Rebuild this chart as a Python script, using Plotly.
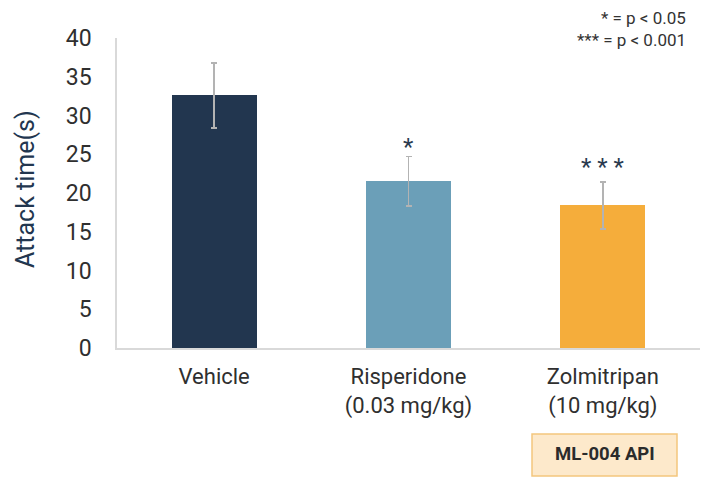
import plotly.graph_objects as go

categories = ["Vehicle", "Risperidone<br>(0.03 mg/kg)", "Zolmitripan<br>(10 mg/kg)"]
means = [32.6, 21.5, 18.4]
errors = [4.2, 3.2, 3.05]
bar_colors = ["#22364f", "#6b9fb8", "#f5ad3b"]
sig_labels = ["", "*", "* * *"]
sig_y = [0, 26.0, 23.3]
y_ticks = [0, 5, 10, 15, 20, 25, 30, 35, 40]

FONT = "Roboto"
W, H = 705, 478
L, R, T, B = 117, 5, 38, 130
pw = W - L - R
ph = H - T - B

def px_x(px):
    return (px - L) / pw

def px_y(py):
    return (H - B - py) / ph

fig = go.Figure()
fig.add_trace(go.Bar(
    x=list(range(len(categories))),
    y=means,
    marker=dict(color=bar_colors, line=dict(width=0)),
    width=0.437,
    error_y=dict(type="data", array=errors, visible=True,
                 color="#b3b3b3", thickness=1.5, width=3),
    showlegend=False,
    hoverinfo="skip",
))

annotations = []
for i, (lab, yv) in enumerate(zip(sig_labels, sig_y)):
    if lab:
        annotations.append(dict(
            x=i, y=yv, xref="x", yref="y", text=lab, showarrow=False,
            font=dict(family=FONT, size=24, color="#2a3a4f"),
            xanchor="center", yanchor="middle",
        ))

annotations.append(dict(
    x=px_x(25), y=px_y(189), xref="paper", yref="paper",
    text="Attack time(s)", textangle=-90, showarrow=False,
    font=dict(family=FONT, size=25, color="#22364f"),
    xanchor="center", yanchor="middle",
))
annotations.append(dict(
    x=px_x(688), y=px_y(18), xref="paper", yref="paper",
    text="* = p < 0.05", showarrow=False,
    font=dict(family=FONT, size=17, color="#333333"),
    xanchor="right", yanchor="middle",
))
annotations.append(dict(
    x=px_x(688), y=px_y(40), xref="paper", yref="paper",
    text="*** = p < 0.001", showarrow=False,
    font=dict(family=FONT, size=17, color="#333333"),
    xanchor="right", yanchor="middle",
))
annotations.append(dict(
    x=px_x(604.5), y=px_y(454), xref="paper", yref="paper",
    text="<b>ML-004 API</b>", showarrow=False,
    font=dict(family=FONT, size=18.5, color="#2b2b2b"),
    xanchor="center", yanchor="middle",
))

shapes = [dict(
    type="rect", xref="paper", yref="paper",
    x0=px_x(532), x1=px_x(677), y0=px_y(476), y1=px_y(434),
    fillcolor="#fde9cb", line=dict(color="#f3c67e", width=1.5),
    layer="below",
)]

fig.update_layout(
    width=W, height=H,
    margin=dict(l=L, r=R, t=T, b=B, pad=0),
    paper_bgcolor="white", plot_bgcolor="white",
    font=dict(family=FONT),
    bargap=0,
    xaxis=dict(
        range=[-0.5, 2.5],
        tickmode="array",
        tickvals=list(range(len(categories))),
        ticktext=categories,
        tickfont=dict(family=FONT, size=22, color="#2f2f2f"),
        showline=True, linecolor="#d9d9d9", linewidth=1.5,
        showgrid=False, zeroline=False, ticks="",
        ticklabelstandoff=8,
    ),
    yaxis=dict(
        range=[0, 40],
        tickmode="array",
        tickvals=y_ticks,
        tickfont=dict(family=FONT, size=23, color="#2f2f2f"),
        showline=True, linecolor="#d9d9d9", linewidth=1.5,
        showgrid=False, zeroline=False, ticks="",
        ticklabelstandoff=19,
    ),
    annotations=annotations,
    shapes=shapes,
)

fig.write_html("out.html")
